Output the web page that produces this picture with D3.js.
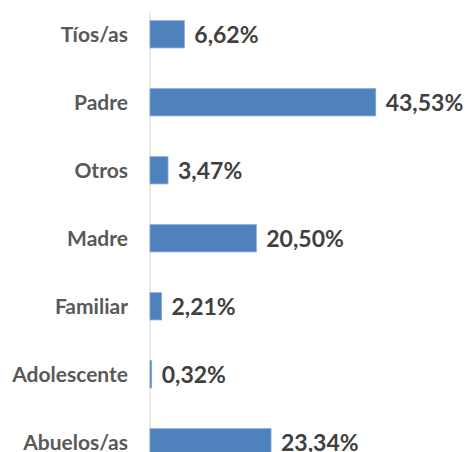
<!DOCTYPE html>
<html>
<head>
<meta charset="utf-8">
<script src="https://cdn.jsdelivr.net/npm/d3@7"></script>
<style>
  body { margin: 0; background: #fff; }
  text { font-family: Lato, "Open Sans", sans-serif; font-weight: bold; }
</style>
</head>
<body>
<script>
// Chart data, top to bottom as drawn

var categories = ['Tíos/as', 'Padre', 'Otros', 'Madre', 'Familiar', 'Adolescente', 'Abuelos/as'];
var values = [6.62, 43.53, 3.47, 20.50, 2.21, 0.32, 23.34];

var width = 465,
    height = 452;

var axisX = 150;

var svg = d3.select('body')
  .append('svg')
  .attr('width', width)
  .attr('height', height);

// Horizontal: percent to pixels
var x = d3.scaleLinear()
  .domain([0, 43.53])
  .range([axisX, 375.7]);

// Vertical: one band per category, 68px step
var y = d3.scaleBand()
  .domain(categories)
  .range([0.3, 0.3 + 68 * categories.length])
  .paddingInner(0.6)
  .paddingOuter(0.3);

var rows = categories.map(function(c, i) { return { cat: c, val: values[i] }; });

// vertical axis line
svg.append('line')
  .attr('x1', axisX).attr('x2', axisX)
  .attr('y1', 12).attr('y2', height)
  .attr('stroke', '#d9d9d9')
  .attr('stroke-width', 1);

svg.selectAll('rect.bar')
  .data(rows)
  .enter().append('rect')
  .attr('class', 'bar')
  .attr('x', x(0))
  .attr('y', function(d) { return y(d.cat); })
  .attr('width', function(d) { return x(d.val) - x(0); })
  .attr('height', y.bandwidth())
  .attr('fill', '#4f81bd')
  .attr('stroke', '#7fa4d3')
  .attr('stroke-width', 0.8);

// category labels
svg.selectAll('text.cat')
  .data(rows)
  .enter().append('text')
  .attr('class', 'cat')
  .attr('x', 128)
  .attr('y', function(d) { return y(d.cat) + y.bandwidth() / 2; })
  .attr('dy', '0.36em')
  .attr('text-anchor', 'end')
  .attr('fill', '#595959')
  .style('font-size', '21px')
  .text(function(d) { return d.cat; });

// value labels
var fmt = function(v) { return v.toFixed(2).replace('.', ',') + '%'; };

svg.selectAll('text.val')
  .data(rows)
  .enter().append('text')
  .attr('class', 'val')
  .attr('x', function(d) { return x(d.val) + 10; })
  .attr('y', function(d) { return y(d.cat) + y.bandwidth() / 2; })
  .attr('dy', '0.36em')
  .attr('fill', '#404040')
  .style('font-size', '23px')
  .text(function(d) { return fmt(d.val); });
</script>
</body>
</html>
